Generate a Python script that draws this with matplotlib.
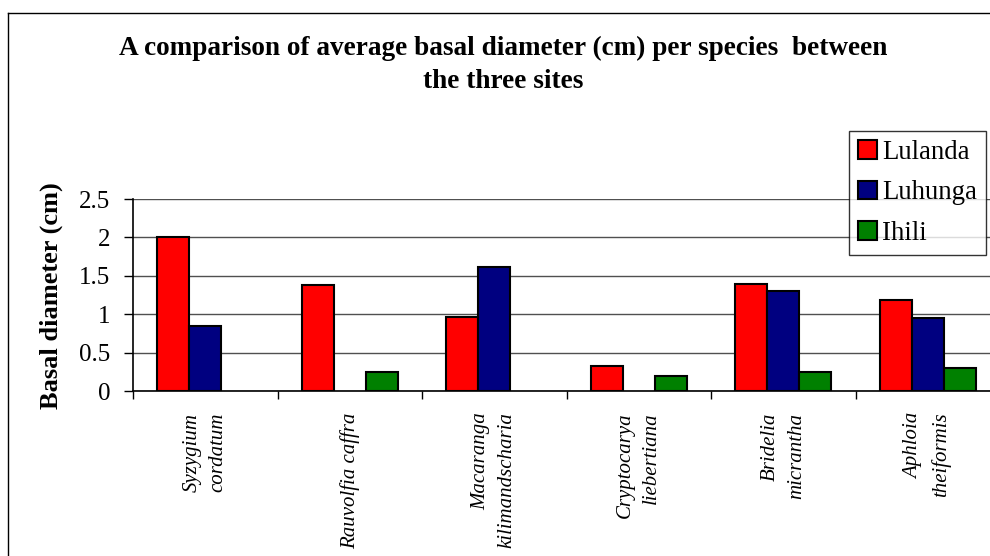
import matplotlib
matplotlib.use("Agg")
import matplotlib.pyplot as plt
import numpy as np
from matplotlib.lines import Line2D
from matplotlib.patches import Patch

species = ["Syzygium\ncordatum", "Rauvolfia caffra", "Macaranga\nkilimandscharia",
           "Cryptocarya\nliebertiana", "Bridelia\nmicrantha", "Aphloia\ntheiformis"]
sites = ["Lulanda", "Luhunga", "Ihili"]
lulanda = [2.01, 1.38, 0.97, 0.32, 1.39, 1.18]
luhunga = [0.84, 0.0, 1.62, 0.0, 1.30, 0.95]
ihili = [0.0, 0.25, 0.0, 0.20, 0.25, 0.30]
colors = ["#FF0000", "#000080", "#008000"]
yticks = [0, 0.5, 1, 1.5, 2, 2.5]
ytick_labels = ["0", "0.5", "1", "1.5", "2", "2.5"]

plt.rcParams['font.family'] = ['Liberation Serif', 'DejaVu Serif']

W, H = 990, 556
fig = plt.figure(figsize=(W / 100, H / 100), dpi=100)

# outer chart border (left and top visible)
fig.add_artist(Line2D([7.5 / W, 7.5 / W], [0, 1 - 13 / H], color='black', lw=1.0))
fig.add_artist(Line2D([7.5 / W, 1], [1 - 13 / H, 1 - 13 / H], color='black', lw=1.0))

left, right, top, bottom = 133, 1000, 199, 391
ax = fig.add_axes([left / W, 1 - bottom / H, (right - left) / W, (bottom - top) / H])

n = len(species)
x = np.arange(n)
bw = 1 / 4.5
series = [lulanda, luhunga, ihili]
for i, (vals, c) in enumerate(zip(series, colors)):
    vals = np.array(vals)
    idx = np.nonzero(vals > 0)[0]
    ax.bar(x[idx] + (i - 1) * bw, vals[idx], width=bw, color=c,
           edgecolor='black', linewidth=1.5, zorder=3)

ax.set_xlim(-0.5, n - 0.5)
ax.set_ylim(0, 2.5)
ax.set_yticks(yticks)
ax.set_yticklabels(ytick_labels, fontsize=18)
ax.yaxis.grid(True, color='#505050', linewidth=1.0, zorder=0)
ax.set_axisbelow(True)

ax.set_xticks(np.arange(n + 1) - 0.5)
ax.set_xticklabels([])
ax.set_xticks(x, minor=True)
ax.set_xticklabels(species, minor=True, rotation=90, fontsize=15, style='italic',
                   va='top', ha='center', multialignment='right', linespacing=1.5)
ax.tick_params(axis='x', which='major', length=6, width=1, direction='out')
ax.tick_params(axis='x', which='minor', length=0, pad=15.5)
ax.tick_params(axis='y', length=6.5, width=1, direction='out', pad=10)

for s in ['top', 'right']:
    ax.spines[s].set_visible(False)
for s in ['left', 'bottom']:
    ax.spines[s].set_linewidth(1.2)

fig.text(51 / W, 1 - 296 / H, "Basal diameter (cm)", rotation=90, ha='center', va='center',
         fontsize=19, fontweight='bold')

fig.text(503 / W, 1 - 36 / H,
         "A comparison of average basal diameter (cm) per species  between\nthe three sites",
         ha='center', va='top', fontsize=19.6, fontweight='bold', linespacing=1.43)

handles = [Patch(facecolor=c, edgecolor='black', linewidth=1.5) for c in colors]
leg = fig.legend(handles, sites, loc='upper left', bbox_to_anchor=(849 / W, 1 - 131 / H),
                 borderaxespad=0, frameon=True, fancybox=False, fontsize=19.3,
                 handlelength=0.7, handleheight=0.7, handletextpad=0.2,
                 labelspacing=0.58, borderpad=0.33)
leg.get_frame().set_edgecolor('black')
leg.get_frame().set_linewidth(1.0)

fig.savefig("out.png", dpi=100)
